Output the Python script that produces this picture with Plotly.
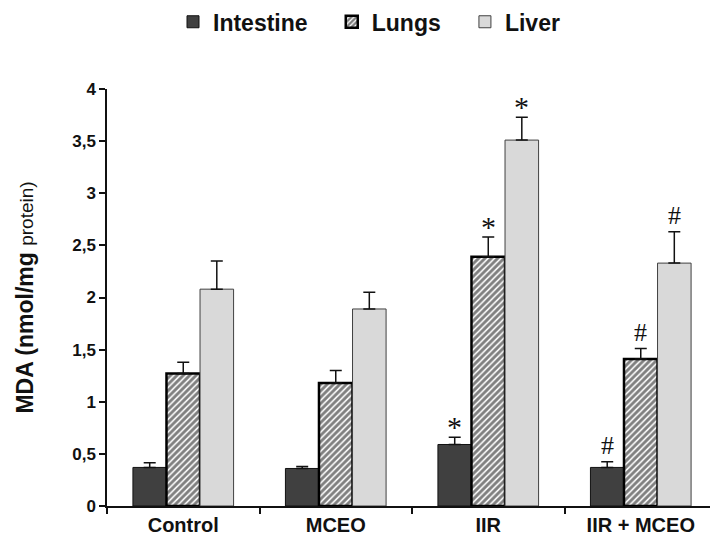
import plotly.graph_objects as go

# MDA levels per group and tissue (mean and upper SEM)
groups = ["Control", "MCEO", "IIR", "IIR + MCEO"]
intestine = [0.37, 0.36, 0.59, 0.37]
intestine_err = [0.045, 0.02, 0.07, 0.055]
lungs = [1.27, 1.18, 2.39, 1.41]
lungs_err = [0.11, 0.12, 0.19, 0.10]
liver = [2.08, 1.89, 3.51, 2.33]
liver_err = [0.27, 0.16, 0.22, 0.30]

# significance marks: (group index, series index, symbol)
marks = [(2, 0, "*"), (2, 1, "*"), (2, 2, "*"),
         (3, 0, "#"), (3, 1, "#"), (3, 2, "#")]

y_ticks = [0, 0.5, 1, 1.5, 2, 2.5, 3, 3.5, 4]
y_tick_text = ["0", "0,5", "1", "1,5", "2", "2,5", "3", "3,5", "4"]

FONT = "Arial, 'Liberation Sans', sans-serif"
SERIF = "'Liberation Serif', 'Times New Roman', serif"
BAR_W = 0.22
PAD = "\u00a0" * 3  # extra spacing between legend entries

def err(vals):
    return dict(type="data", array=vals, arrayminus=[0] * len(vals),
                symmetric=False, color="#111111", thickness=1.5, width=6)

fig = go.Figure()
fig.add_trace(go.Bar(
    name="Intestine" + PAD, x=groups, y=intestine, error_y=err(intestine_err),
    marker=dict(color="#404040", line=dict(color="#111111", width=1)),
))
fig.add_trace(go.Bar(
    name="Lungs" + PAD, x=groups, y=lungs, error_y=err(lungs_err),
    marker=dict(color="white", line=dict(color="#000000", width=2.5),
                pattern=dict(shape="/", fgcolor="#000000", bgcolor="white",
                             size=4.5, solidity=0.65)),
))
fig.add_trace(go.Bar(
    name="Liver", x=groups, y=liver, error_y=err(liver_err),
    marker=dict(color="#d9d9d9", line=dict(color="#404040", width=1)),
))

series = [(intestine, intestine_err), (lungs, lungs_err), (liver, liver_err)]
for gi, si, sym in marks:
    vals, errs = series[si]
    fig.add_annotation(
        x=gi + (si - 1) * BAR_W, y=vals[gi] + errs[gi],
        xref="x", yref="y", text=sym, showarrow=False,
        yanchor="bottom", yshift=-8 if sym == "*" else 0,
        font=dict(family=SERIF, size=30 if sym == "*" else 26, color="#111111"),
    )

fig.update_layout(
    width=710, height=545,
    margin=dict(l=107, r=0, t=89, b=39),
    paper_bgcolor="white", plot_bgcolor="white",
    barmode="group", bargap=0.34, bargroupgap=0,
    font=dict(family=FONT, color="#111111"),
    showlegend=True,
    legend=dict(orientation="h", xref="container", x=173 / 710, xanchor="left",
                yref="container", y=0.96, yanchor="middle",
                font=dict(size=23, family=FONT, weight="bold"),
                itemwidth=30, traceorder="normal"),
    xaxis=dict(
        type="category", range=[-0.5, 3.454],
        showline=True, linecolor="#111111", linewidth=1.5,
        ticks="outside", tickson="boundaries", ticklen=6,
        tickcolor="#111111", tickwidth=1.5,
        tickfont=dict(size=20, family=FONT, weight="bold"),
        showgrid=False, zeroline=False,
    ),
    yaxis=dict(
        range=[0, 4], tickvals=y_ticks, ticktext=y_tick_text,
        showline=True, linecolor="#111111", linewidth=1.5,
        ticks="outside", ticklen=6, tickcolor="#111111", tickwidth=1.5,
        tickfont=dict(size=17, family=FONT, weight="bold"),
        showgrid=False, zeroline=False, automargin=False,
        title=dict(
            text="<b>MDA (nmol/mg</b> <span style='font-size:19px'>protein)</span>",
            font=dict(size=23, family=FONT), standoff=32,
        ),
    ),
)

fig.write_html("out.html")
